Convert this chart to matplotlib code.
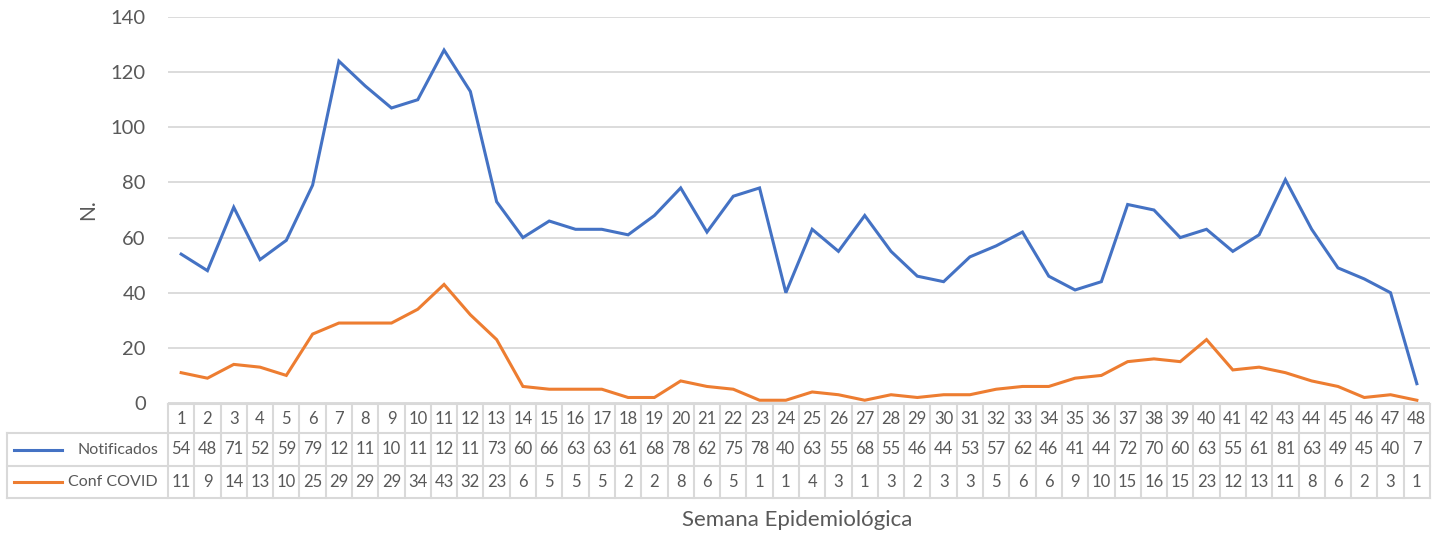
import matplotlib
matplotlib.use("Agg")
import matplotlib.pyplot as plt
from matplotlib.lines import Line2D

# --------------------------------------------------
# DATA
# --------------------------------------------------
semanas = list(range(1, 49))
notificados = [54, 48, 71, 52, 59, 79, 124, 115, 107, 110, 128, 113, 73, 60, 66, 63,
               63, 61, 68, 78, 62, 75, 78, 40, 63, 55, 68, 55, 46, 44, 53, 57,
               62, 46, 41, 44, 72, 70, 60, 63, 55, 61, 81, 63, 49, 45, 40, 7]
conf_covid = [11, 9, 14, 13, 10, 25, 29, 29, 29, 34, 43, 32, 23, 6, 5, 5,
              5, 2, 2, 8, 6, 5, 1, 1, 4, 3, 1, 3, 2, 3, 3, 5,
              6, 6, 9, 10, 15, 16, 15, 23, 12, 13, 11, 8, 6, 2, 3, 1]
series = [("Notificados", notificados, "#4472C4"),
          ("Conf COVID", conf_covid, "#ED7D31")]
y_ticks = [0, 20, 40, 60, 80, 100, 120, 140]

# --------------------------------------------------
# LAYOUT (pixels)
# --------------------------------------------------
W, H = 1440, 535
TXT = "#595959"
GRID = "#d9d9d9"
plt.rcParams["font.family"] = ["Lato", "DejaVu Sans"]

fig = plt.figure(figsize=(W / 100, H / 100), dpi=100)
x0, x1 = 168, 1430
y_top, y_bot = 17, 403
ax = fig.add_axes([x0 / W, 1 - y_bot / H, (x1 - x0) / W, (y_bot - y_top) / H])

xs = list(range(len(semanas)))
for name, vals, col in series:
    ax.plot(xs, vals, color=col, lw=2.2, solid_joinstyle="miter")

ax.set_xlim(-0.5, len(semanas) - 0.5)
ax.set_ylim(0, 140)
ax.set_yticks(y_ticks)
ax.tick_params(axis="y", length=0, labelsize=14.5, labelcolor=TXT, pad=16)
ax.set_xticks([])
ax.grid(axis="y", color=GRID, lw=1.3)
ax.set_axisbelow(True)
for s in ax.spines.values():
    s.set_visible(False)


def fx(px):
    return px / W


def fy(py):
    return 1 - py / H


fig.text(fx(88), fy(210), "N.", rotation=90, ha="center", va="center",
         fontsize=15, color=TXT)

# --------------------------------------------------
# DATA TABLE below the axis
# --------------------------------------------------
rows = [404, 433, 466, 498]
left = 7
colw = (x1 - x0) / len(semanas)
lkw = dict(color=GRID, lw=1.5, transform=fig.transFigure)

# horizontal lines
fig.add_artist(Line2D([fx(x0), fx(x1)], [fy(rows[0])] * 2, **lkw))
for r in rows[1:]:
    fig.add_artist(Line2D([fx(left), fx(x1)], [fy(r)] * 2, **lkw))
# vertical lines
fig.add_artist(Line2D([fx(left)] * 2, [fy(rows[1]), fy(rows[3])], **lkw))
for i in range(len(semanas) + 1):
    xp = x0 + i * colw
    fig.add_artist(Line2D([fx(xp)] * 2, [fy(rows[0]), fy(rows[3])], **lkw))

for i, s in enumerate(semanas):
    cx = x0 + (i + 0.5) * colw
    fig.text(fx(cx), fy((rows[0] + rows[1]) / 2), str(s), ha="center", va="center",
             fontsize=12, color=TXT)
    for k, (name, vals, col) in enumerate(series):
        # Excel table clips the three-digit values in narrow cells
        fig.text(fx(cx), fy((rows[k + 1] + rows[k + 2]) / 2), str(vals[i])[:2],
                 ha="center", va="center", fontsize=12, color=TXT)

for k, (name, vals, col) in enumerate(series):
    yc = fy((rows[k + 1] + rows[k + 2]) / 2)
    fig.add_artist(Line2D([fx(14), fx(62)], [yc, yc], color=col, lw=2.2,
                          transform=fig.transFigure))
    fig.text(fx(158), yc, name, ha="right", va="center", fontsize=11.5, color=TXT)

fig.text(fx(797), fy(520), "Semana Epidemiológica", ha="center",
         va="center", fontsize=16, color=TXT)

fig.savefig("out.png", dpi=100)
